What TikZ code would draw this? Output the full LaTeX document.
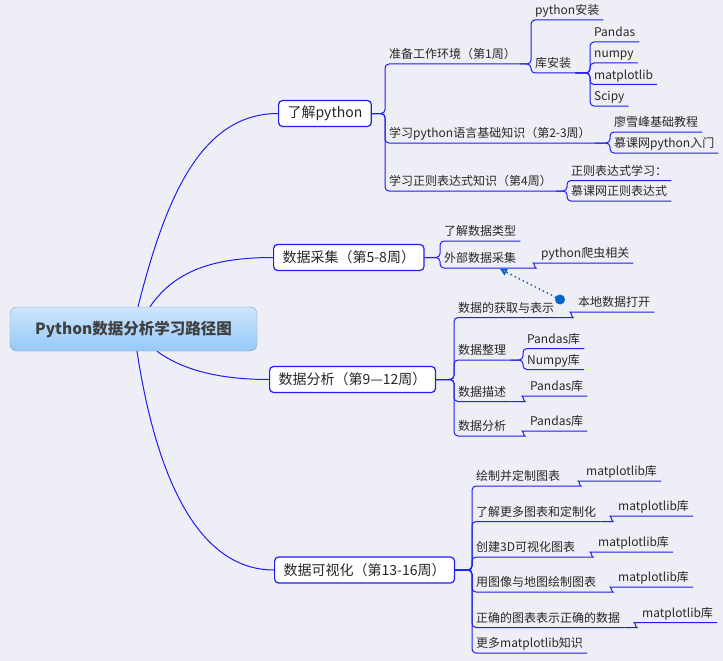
\documentclass[tikz,border=0pt]{standalone}
\usepackage{fontspec}
\setmainfont{Noto Sans CJK SC}
\usepackage{xcolor}
\usetikzlibrary{arrows.meta, positioning, calc}

\definecolor{bgpaper}{RGB}{238,238,247}
\definecolor{branch}{RGB}{30,30,240}
\definecolor{reltag}{RGB}{0,102,204}
\definecolor{rootfill}{RGB}{150,200,248}
\definecolor{roottop}{RGB}{205,230,252}
\definecolor{rootline}{RGB}{150,158,170}
\definecolor{inktext}{RGB}{40,40,40}

\begin{document}
\begin{tikzpicture}[
  x=1pt, y=-1pt,
  every node/.style={text=inktext},
  root/.style={draw=rootline, rounded corners=7pt, top color=roottop, bottom color=rootfill,
               minimum width=247pt, minimum height=44pt,
               font=\fontsize{15.5}{18}\selectfont\bfseries, text=black!75},
  topic/.style={draw=branch, line width=1.2pt, rounded corners=4pt, fill=white, anchor=west,
                inner xsep=9pt, minimum height=26pt, font=\fontsize{14}{16}\selectfont, text=black!85},
  leaf/.style={anchor=south west, inner xsep=4pt, inner ysep=2pt, text height=9pt,
               text depth=3pt, font=\fontsize{12}{14}\selectfont},
  link/.style={draw=branch, line width=1pt, rounded corners=4pt},
  curve/.style={draw=branch, line width=1pt},
  relation/.style={draw=reltag, line width=2pt, line cap=round, dash pattern=on 0pt off 4.5pt,
                   -{Triangle[open, length=7pt, width=7pt]}},
  dot/.style={circle, fill=reltag, inner sep=0pt, minimum size=10pt}
]
\path[use as bounding box, fill=bgpaper] (0,0) rectangle (723,661);

%% Nodes
\node[root] (root) at (133.5,329) {Python数据分析学习路径图};

\node[topic] (learn)   at (278,113.5) {了解python};
\node[topic] (collect) at (273,257.5) {数据采集（第5-8周）};
\node[topic] (analyse) at (269,379.5) {数据分析（第9—12周）};
\node[topic] (visual)  at (274,570)   {数据可视化（第13-16周）};

% learn python
\node[leaf] (env)     at (385,64)    {准备工作环境（第1周）};
\node[leaf] (basic)   at (385,143)   {学习python语言基础知识（第2-3周）};
\node[leaf] (regex)   at (385,191)   {学习正则表达式知识（第4周）};
\node[leaf] (setup)   at (531,20)    {python安装};
\node[leaf] (libs)    at (531,73)    {库安装};
\node[leaf] (pandas)  at (590,42)    {Pandas};
\node[leaf] (numpy)   at (590,63)    {numpy};
\node[leaf] (mpl)     at (590,84.5)  {matplotlib};
\node[leaf] (scipy)   at (590,106)   {Scipy};
\node[leaf] (liao)    at (610,132)   {廖雪峰基础教程};
\node[leaf] (imooc)   at (610,153)   {慕课网python入门};
\node[leaf] (restudy) at (567,180.5) {正则表达式学习：};
\node[leaf] (reimooc) at (567,201)   {慕课网正则表达式};

% collecting
\node[leaf] (types)   at (440,241)   {了解数据类型};
\node[leaf] (extern)  at (440,268)   {外部数据采集};
\node[leaf] (spider)  at (537,263)   {python爬虫相关};

% analysing
\node[leaf] (fetch)   at (454,317.5) {数据的获取与表示};
\node[leaf] (local)   at (574,312)   {本地数据打开};
\node[leaf] (tidy)    at (454,360)   {数据整理};
\node[leaf] (tidypd)  at (523,348.5) {Pandas库};
\node[leaf] (tidynp)  at (523,369.5) {Numpy库};
\node[leaf] (desc)    at (454,401.5) {数据描述};
\node[leaf] (descpd)  at (526,396)   {Pandas库};
\node[leaf] (anal)    at (454,436)   {数据分析};
\node[leaf] (analpd)  at (526,431)   {Pandas库};

% visualising
\node[leaf] (plot)     at (472,486)   {绘制并定制图表};
\node[leaf] (more)     at (472,521.5) {了解更多图表和定制化};
\node[leaf] (threed)   at (472,557)   {创建3D可视化图表};
\node[leaf] (maps)     at (472,592)   {用图像与地图绘制图表};
\node[leaf] (correct)  at (472,627.5) {正确的图表表示正确的数据};
\node[leaf] (extra)    at (472,653)   {更多matplotlib知识};
\node[leaf] (plotlib)  at (582,481)   {matplotlib库};
\node[leaf] (morelib)  at (614,516)   {matplotlib库};
\node[leaf] (threelib) at (594,552)   {matplotlib库};
\node[leaf] (mapslib)  at (614,587)   {matplotlib库};
\node[leaf] (corrlib)  at (638,622.5) {matplotlib库};

\node[dot] (local dot) at (560,299.5) {};
\coordinate (extern tip) at (500,269);

%% Curves from the root
\draw[curve] ($(root.north)+(4.5,0)$)  .. controls (165,200) and (200,113.5) .. (learn.west);
\draw[curve] ($(root.north)+(16.5,0)$) .. controls (175,270) and (215,257.5) .. (collect.west);
\draw[curve] ($(root.south)+(23.5,0)$) .. controls (185,372) and (225,379.5) .. (analyse.west);
\draw[curve] ($(root.south)+(3.5,0)$)  .. controls (155,470) and (195,570) .. (visual.west);

%% Branches
\draw[link] (learn.east) -- (learn.east -| env.south west) |- (env.south east);
\draw[link] (learn.east) -- (learn.east -| basic.south west) |- (basic.south east);
\draw[link] (learn.east) -- (learn.east -| regex.south west) |- (regex.south east);
\draw[link] (env.south east) -- (env.south east -| setup.south west) |- (setup.south east);
\draw[link] (env.south east) -- (env.south east -| libs.south west) |- (libs.south east);
\draw[link] (libs.south east) -- (libs.south east -| pandas.south west) |- (pandas.south east);
\draw[link] (libs.south east) -- (libs.south east -| numpy.south west) |- (numpy.south east);
\draw[link] (libs.south east) -- (libs.south east -| mpl.south west) |- (mpl.south east);
\draw[link] (libs.south east) -- (libs.south east -| scipy.south west) |- (scipy.south east);
\draw[link] (basic.south east) -- (basic.south east -| liao.south west) |- (liao.south east);
\draw[link] (basic.south east) -- (basic.south east -| imooc.south west) |- (imooc.south east);
\draw[link] (regex.south east) -- (regex.south east -| restudy.south west) |- (restudy.south east);
\draw[link] (regex.south east) -- (regex.south east -| reimooc.south west) |- (reimooc.south east);

\draw[link] (collect.east) -- (collect.east -| types.south west) |- (types.south east);
\draw[link] (collect.east) -- (collect.east -| extern.south west) |- (extern.south east);
\draw[link] (extern.south east) -- ($(extern.south east -| spider.south west)+(-5,0)$)
  to[out=0, in=180] (spider.south west) -- (spider.south east);

\draw[link] (analyse.east) -- (analyse.east -| fetch.south west) |- (fetch.south east);
\draw[link] (analyse.east) -- (analyse.east -| tidy.south west) |- (tidy.south east);
\draw[link] (analyse.east) -- (analyse.east -| desc.south west) |- (desc.south east);
\draw[link] (analyse.east) -- (analyse.east -| anal.south west) |- (anal.south east);
\draw[link] (fetch.south east) -- ($(fetch.south east -| local.south west)+(-5,0)$)
  to[out=0, in=180] (local.south west) -- (local.south east);
\draw[link] (tidy.south east) -- (tidy.south east -| tidypd.south west) |- (tidypd.south east);
\draw[link] (tidy.south east) -- (tidy.south east -| tidynp.south west) |- (tidynp.south east);
\draw[link] (desc.south east) -- ($(desc.south east -| descpd.south west)+(-5,0)$)
  to[out=0, in=180] (descpd.south west) -- (descpd.south east);
\draw[link] (anal.south east) -- ($(anal.south east -| analpd.south west)+(-5,0)$)
  to[out=0, in=180] (analpd.south west) -- (analpd.south east);

\draw[link] (visual.east) -- (visual.east -| plot.south west) |- (plot.south east);
\draw[link] (visual.east) -- (visual.east -| more.south west) |- (more.south east);
\draw[link] (visual.east) -- (visual.east -| threed.south west) |- (threed.south east);
\draw[link] (visual.east) -- (visual.east -| maps.south west) |- (maps.south east);
\draw[link] (visual.east) -- (visual.east -| correct.south west) |- (correct.south east);
\draw[link] (visual.east) -- (visual.east -| extra.south west) |- (extra.south east);
\draw[link] (plot.south east) -- ($(plot.south east -| plotlib.south west)+(-5,0)$)
  to[out=0, in=180] (plotlib.south west) -- (plotlib.south east);
\draw[link] (more.south east) -- ($(more.south east -| morelib.south west)+(-5,0)$)
  to[out=0, in=180] (morelib.south west) -- (morelib.south east);
\draw[link] (threed.south east) -- ($(threed.south east -| threelib.south west)+(-5,0)$)
  to[out=0, in=180] (threelib.south west) -- (threelib.south east);
\draw[link] (maps.south east) -- ($(maps.south east -| mapslib.south west)+(-5,0)$)
  to[out=0, in=180] (mapslib.south west) -- (mapslib.south east);
\draw[link] (correct.south east) -- ($(correct.south east -| corrlib.south west)+(-5,0)$)
  to[out=0, in=180] (corrlib.south west) -- (corrlib.south east);

%% Relation
\draw[relation] (local dot) -- (extern tip);

\end{tikzpicture}
\end{document}
